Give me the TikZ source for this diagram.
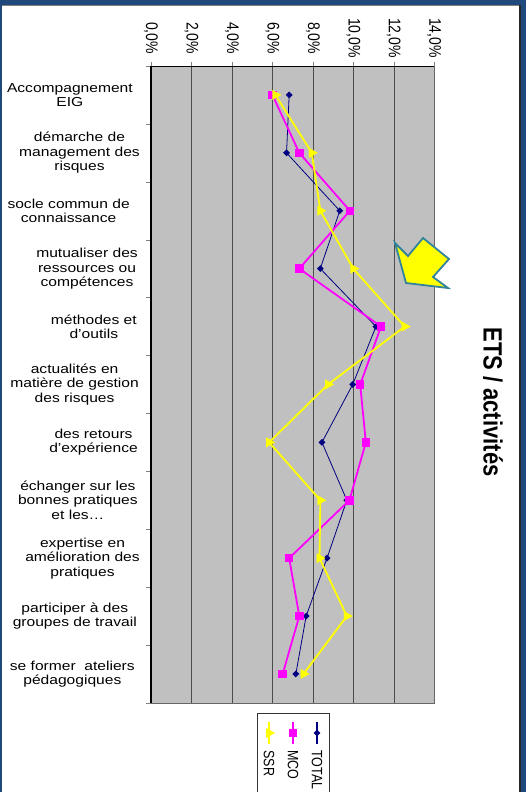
\documentclass[tikz,border=0pt]{standalone}
\usepackage{fontspec}
\setmainfont{Liberation Sans}
\usetikzlibrary{shapes.geometric}
\definecolor{cadre}{RGB}{31,73,125}
\definecolor{fond}{RGB}{192,192,192}
\definecolor{mco}{RGB}{255,0,255}
\definecolor{ssr}{RGB}{255,255,0}
\definecolor{total}{RGB}{0,0,128}
\definecolor{bord}{RGB}{49,132,155}

\begin{document}
\begin{tikzpicture}[x=1pt,y=-1pt,
  cat/.style={anchor=east,align=center,inner sep=0pt,xscale=1.2,font=\fontsize{13}{14.5}\selectfont},
  pct/.style={rotate=-90,yscale=1.2,font=\fontsize{14}{16}\selectfont},
  leg/.style={rotate=-90,yscale=1.2,anchor=west,font=\fontsize{12.5}{14}\selectfont},
  mtot/.style={diamond,fill=total,inner sep=0pt,minimum size=7pt},
  mmco/.style={rectangle,fill=mco,inner sep=0pt,minimum size=8.5pt},
  mssr/.style={isosceles triangle,isosceles triangle stretches,fill=ssr,inner sep=0pt,minimum width=10pt,minimum height=9pt}]
\useasboundingbox (0,0) rectangle (526,792);
\fill[cadre] (0,0) rectangle (526,792);
\fill[white] (2,5) rectangle (519.5,792);
\draw[gray] (2,5.5) -- (519.5,5.5);
\draw[black!85,line width=1.5pt] (520.2,5) -- (520.2,792);

\edef\gx{151}\edef\gy{66}\edef\gb{703}\edef\pas{20.23}\edef\hc{57.9}
\fill[fond] (\gx,\gy) rectangle (\gx+14*\pas,\gb);
\foreach \v in {1,...,6} \draw[black!70] (\gx+2*\v*\pas,\gy) -- (\gx+2*\v*\pas,\gb);
\draw[gray!80!black] (\gx+14*\pas,\gy) -- (\gx+14*\pas,\gb) -- (\gx,\gb);
\draw[black] (\gx,\gy) -- (\gx+14*\pas,\gy);
\foreach \v in {0,...,7} {
	\draw[gray] (\gx+2*\v*\pas,\gy) -- +(0,-4);
	\node[pct] (p\v) at (\gx+2*\v*\pas,38) {\the\numexpr2*\v\relax,0\%};
}
\foreach \i in {0,...,11} \draw[gray] (\gx,\gy+\i*\hc) -- +(-5,0);
\draw[black,line width=1.5pt] (\gx,\gy) -- (\gx,\gb);

\foreach \txt/\xr [count=\i] in {{Accompagnement\\EIG}/133,{démarche de\\management des\\risques}/140,
	{socle commun de\\connaissance}/130,{mutualiser des\\ressources ou\\compétences}/138,
	{méthodes et\\d’outils}/137,{actualités en\\matière de gestion\\des risques}/139,
	{des retours\\d’expérience}/138,{échanger sur les\\bonnes pratiques\\et les…}/138,
	{expertise en\\amélioration des\\pratiques}/140,{participer à des\\groupes de travail}/137,
	{se former~ ateliers\\pédagogiques}/135}
	\node[cat] (c\i) at (\xr,\gy+\i*\hc-.5*\hc) {\txt};

\foreach \t/\m/\s [count=\i] in {6.83/6.0/6.15,6.7/7.33/7.95,9.33/9.83/8.37,8.37/7.33/10.0,
	11.12/11.37/12.54,9.97/10.34/8.75,8.45/10.62/5.84,9.68/9.81/8.37,8.7/6.83/8.33,
	7.67/7.33/9.68,7.16/6.51/7.54} {
	\coordinate (t\i) at (\gx+\t*\pas,\gy+\i*\hc-.5*\hc);
	\coordinate (m\i) at (\gx+\m*\pas,\gy+\i*\hc-.5*\hc);
	\coordinate (s\i) at (\gx+\s*\pas,\gy+\i*\hc-.5*\hc);
}
\draw[total,line width=.8pt] (t1) \foreach \i in {2,...,11} {-- (t\i)};
\foreach \i in {1,...,11} \node[mtot] (dt\i) at (t\i) {};
\draw[mco,line width=1.8pt] (m1) \foreach \i in {2,...,11} {-- (m\i)};
\foreach \i in {1,...,11} \node[mmco] (dm\i) at (m\i) {};
\draw[ssr,line width=1.8pt] (s1) \foreach \i in {2,...,11} {-- (s\i)};
\foreach \i in {1,...,11} \node[mssr] (ds\i) at (s\i) {};

\draw[bord,fill=ssr,line width=1.8pt] (395,243) -- (408,256) -- (423,238) -- (449,259) -- (433,277) -- (448,288) -- (406,283) -- cycle;
\node[rotate=-90,yscale=1.2,font=\fontsize{22}{24}\selectfont\bfseries] (titre) at (493,402) {ETS / activités};

\draw[black!80] (257,795) -- (257,713) -- (329,713) -- (329,795);
\foreach \nom/\xx/\col/\sty in {TOTAL/317/total/mtot,MCO/293/mco/mmco,SSR/269/ssr/mssr} {
	\draw[\col,line width=1.5pt] (\xx,722) -- (\xx,744);
	\node[\sty] (l\nom) at (\xx,733) {};
	\node[leg] (e\nom) at (\xx,747) {\nom};
}
\end{tikzpicture}
\end{document}
